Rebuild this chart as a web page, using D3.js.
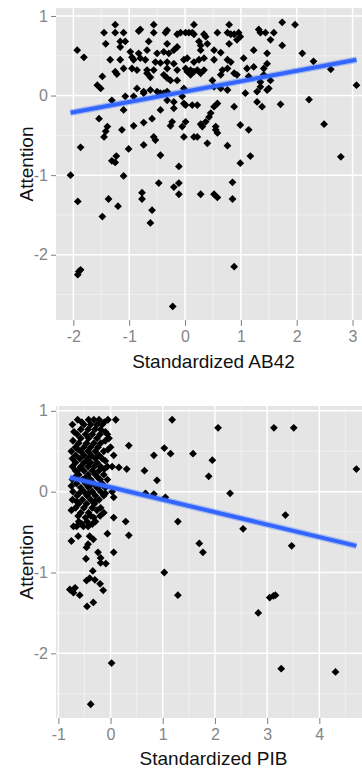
<!DOCTYPE html>
<html><head><meta charset="utf-8">
<script src="https://cdn.jsdelivr.net/npm/d3@7"></script>
<style>html,body{margin:0;padding:0;background:#fff}svg{display:block}</style>
</head><body>
<svg id="c" width="362" height="773"></svg>
<script>
// ---------- DATA ----------
const ab42Points = [
[-1.25,0.89],[-0.56,0.89],[0.16,0.89],[0.79,0.89],[1.74,0.92],[1.97,0.89],
[-1.45,0.79],[-1.25,0.79],[-1.10,0.79],[-0.83,0.81],[-0.80,0.83],[-0.56,0.79],[-0.35,0.79],[-0.32,0.82],[-0.14,0.77],[-0.08,0.79],[0.01,0.79],[0.07,0.79],[0.13,0.79],[0.16,0.77],[0.34,0.77],[0.37,0.74],[0.58,0.79],[0.76,0.79],[0.82,0.77],[0.88,0.77],[0.96,0.79],[1.32,0.83],[1.35,0.79],[1.44,0.79],[1.59,0.79],
[-1.42,0.65],[-1.16,0.68],[-1.07,0.68],[-0.65,0.68],[-0.32,0.65],[-0.14,0.61],[0.25,0.68],[0.28,0.63],[0.40,0.65],[0.79,0.65],[0.99,0.74],[0.93,0.70],[1.53,0.70],
[-1.93,0.57],[-1.81,0.48],[-1.16,0.61],[-0.98,0.55],[-0.83,0.53],[-0.68,0.57],[-0.50,0.53],[-0.38,0.55],[-0.29,0.53],[-0.20,0.57],[0.28,0.57],[0.52,0.57],[0.64,0.54],[1.23,0.57],[1.47,0.53],[1.74,0.63],[2.10,0.53],
[-1.34,0.45],[-1.16,0.45],[-0.95,0.48],[-0.92,0.45],[-0.80,0.47],[-0.71,0.45],[-0.53,0.42],[-0.44,0.41],[-0.32,0.42],[-0.20,0.40],[-0.02,0.45],[0.04,0.47],[0.16,0.42],[0.25,0.45],[0.34,0.47],[0.52,0.45],[0.76,0.45],[0.82,0.42],[1.05,0.47],[1.47,0.40],[2.30,0.43],
[-1.10,0.34],[-0.95,0.34],[-0.86,0.32],[-0.68,0.32],[-0.56,0.32],[-0.32,0.34],[-0.14,0.32],[0.01,0.34],[0.10,0.32],[0.22,0.32],[0.34,0.32],[0.67,0.32],[0.76,0.34],[1.11,0.34],[1.23,0.36],[1.41,0.34],[2.61,0.33],
[-1.57,0.13],[-1.51,0.09],[-1.48,0.24],[-1.25,0.30],[-1.22,0.27],[-0.68,0.28],[-0.62,0.23],[-0.38,0.26],[-0.32,0.22],[-0.26,0.19],[-0.14,0.19],[0.04,0.30],[0.10,0.26],[0.16,0.30],[0.28,0.28],[0.49,0.19],[0.64,0.26],[0.88,0.28],[0.93,0.26],[1.14,0.24],[1.41,0.26],[1.53,0.19],[1.35,0.17],
[-0.86,0.09],[-0.74,0.05],[-0.62,0.07],[-0.50,0.05],[-0.38,0.03],[-0.32,0.05],[-0.02,0.09],[0.52,0.11],[0.64,0.09],[0.76,0.07],[1.35,0.11],[1.50,0.09],[1.47,0.07],[3.07,0.13],
[-1.31,-0.06],[-1.07,-0.01],[-0.92,-0.01],[-0.74,0.03],[-0.44,0.03],[-0.32,-0.06],[-0.20,-0.08],[-0.05,-0.01],[-0.02,-0.10],[0.01,-0.12],[0.13,-0.12],[0.22,-0.12],[0.58,-0.10],[0.88,-0.14],[1.08,0.03],[1.29,0.05],[1.29,-0.08],[1.38,-0.14],[1.71,-0.11],[2.22,-0.05],
[-1.10,-0.18],[-0.44,-0.18],[-0.20,-0.16],[0.52,-0.14],[0.46,-0.22],[0.43,-0.27],
[-1.54,-0.29],[-1.39,-0.39],[-1.42,-0.45],[-1.45,-0.52],[-1.13,-0.43],[-0.92,-0.38],[-0.74,-0.34],[-0.59,-0.29],[-0.23,-0.33],[-0.26,-0.38],[-0.05,-0.39],[0.01,-0.33],[0.31,-0.39],[0.28,-0.36],[0.37,-0.33],[0.55,-0.39],[0.58,-0.47],[0.55,-0.43],[0.99,-0.37],[1.14,-0.43],[2.49,-0.36],
[-0.56,-0.52],[-0.53,-0.56],[-0.02,-0.52],[0.16,-0.52],[0.22,-0.52],[0.40,-0.60],[0.76,-0.63],
[-1.87,-0.65],[-1.01,-0.67],[-0.74,-0.62],[-0.44,-0.75],[1.17,-0.76],[0.99,-0.85],[2.79,-0.77],[-1.31,-0.82],[-1.25,-0.84],[-1.23,-0.76],[-1.10,-1.01],[-0.11,-0.89],[-2.05,-1.00],
[-1.92,-1.33],[-1.48,-1.52],[-1.37,-1.30],[-1.20,-1.39],[-0.77,-1.22],[-0.77,-1.30],[-0.59,-1.44],[-0.62,-1.60],[-0.47,-1.10],[-0.20,-1.15],[-0.11,-1.10],[-0.11,-1.24],[0.28,-1.24],[0.52,-1.24],[0.58,-1.28],[0.85,-1.09],[0.85,-1.30],[0.88,-2.15],[-1.87,-2.19],[-1.90,-2.21],[-1.92,-2.25],[-0.22,-2.65]
];

const pibPoints = [
[-0.63,0.89],[-0.42,0.89],[-0.32,0.89],[-0.22,0.89],[-0.05,0.89],[0.10,0.89],
[-0.73,0.83],[-0.51,0.83],[-0.38,0.83],[-0.26,0.83],[-0.16,0.83],
[-0.55,0.86],[-0.12,0.86],
[-0.57,0.77],[-0.43,0.77],[-0.30,0.77],[-0.19,0.77],
[-0.70,0.74],[-0.10,0.74],
[-0.64,0.71],[-0.48,0.71],[-0.35,0.71],[-0.20,0.71],[-0.06,0.71],
[-0.57,0.66],[-0.42,0.66],[-0.26,0.66],[-0.03,0.66],
[-0.72,0.63],[-0.10,0.63],
[-0.61,0.60],[-0.46,0.60],[-0.32,0.60],[-0.19,0.60],
[-0.67,0.55],[-0.51,0.55],[-0.38,0.55],[-0.24,0.55],[0.00,0.55],
[-0.62,0.52],[-0.05,0.52],
[-0.75,0.50],[-0.57,0.50],[-0.43,0.50],[-0.29,0.50],[-0.13,0.50],
[-0.67,0.45],[-0.51,0.45],[-0.37,0.45],[-0.22,0.45],[0.06,0.45],
[-0.73,0.41],[-0.59,0.41],[-0.43,0.41],[-0.29,0.41],[-0.16,0.41],
[-0.45,0.38],[-0.10,0.38],
[-0.67,0.36],[-0.51,0.36],[-0.38,0.36],[-0.26,0.36],
[-0.73,0.31],[-0.57,0.31],[-0.43,0.31],[-0.31,0.31],[-0.19,0.31],[-0.06,0.31],[0.03,0.31],
[-0.60,0.28],[-0.12,0.28],
[-0.67,0.26],[-0.51,0.26],[-0.35,0.26],[-0.22,0.26],
[-0.61,0.21],[-0.43,0.21],[-0.29,0.21],[-0.13,0.21],
[-0.68,0.18],[-0.47,0.18],[-0.25,0.18],
[-0.73,0.15],[-0.54,0.15],[-0.38,0.15],[-0.20,0.15],[-0.06,0.15],
[-0.65,0.10],[-0.48,0.10],[-0.32,0.10],[-0.16,0.10],
[-0.75,0.07],[-0.40,0.07],[-0.22,0.07],
[-0.57,0.05],[-0.42,0.05],[-0.26,0.05],[-0.10,0.05],
[-0.72,0.00],[-0.51,0.00],[-0.35,0.00],[-0.19,0.00],[0.03,0.00],
[-0.60,-0.02],[-0.42,-0.02],[-0.10,-0.02],
[-0.64,-0.05],[-0.45,-0.05],[-0.29,-0.05],[-0.13,-0.05],
[-0.73,-0.10],[-0.54,-0.10],[-0.38,-0.10],[-0.22,-0.10],
[-0.65,-0.12],[-0.30,-0.12],
[-0.61,-0.15],[-0.46,-0.15],[-0.31,-0.15],
[-0.67,-0.20],[-0.51,-0.20],[-0.35,-0.20],[-0.19,-0.20],
[-0.75,-0.23],[-0.26,-0.23],
[-0.57,-0.26],[-0.42,-0.26],[-0.13,-0.26],
[-0.62,-0.30],[-0.38,-0.30],[-0.20,-0.30],
[-0.48,-0.32],[-0.32,-0.32],
[-0.61,-0.37],[-0.45,-0.37],[-0.29,-0.37],
[-0.55,-0.40],[-0.35,-0.40],
[-0.75,-0.61],[-0.62,-0.55],[-0.71,-0.43],[-0.65,-0.43],[-0.52,-0.43],[-0.43,-0.43],[-0.40,-0.55],[-0.33,-0.59],[-0.43,-0.65],[-0.46,-0.69],[-0.06,-0.52],[-0.47,-0.83],[-0.24,-0.75],[-0.19,-0.82],[-0.19,-0.88],[-0.09,-0.89],[0.06,-0.75],[-0.34,-0.98],[-0.46,-1.10],[-0.40,-1.07],[-0.30,-1.09],[-0.20,-1.14],[-0.14,-1.22],[-0.78,-1.21],[-0.68,-1.19],[-0.71,-1.25],[-0.59,-1.28],[-0.45,-1.42],[-0.33,-1.37],
[1.18,0.89],[2.06,0.79],[3.13,0.79],[3.51,0.79],[0.35,0.57],[1.03,0.54],[0.83,0.45],[1.15,0.47],[1.58,0.47],[1.95,0.39],[0.65,0.26],[0.89,0.14],[1.88,0.19],[4.71,0.28],[2.29,-0.02],[0.67,-0.02],[0.83,-0.03],[1.05,-0.07],[1.29,-0.37],[2.54,-0.46],[3.35,-0.29],[3.47,-0.67],[1.70,-0.64],[1.77,-0.75],[1.03,-1.00],[1.29,-1.28],[3.05,-1.31],[3.12,-1.29],[3.16,-1.28],[2.83,-1.50],[3.27,-2.19],[4.31,-2.23],[0.02,-2.12],[-0.38,-2.63],[0.31,0.28],[0.16,0.30],[0.06,-0.07],[0.06,-0.32],[0.29,-0.37],[0.35,-0.54]
];

// fitted lines (intercept, slope)
const ab42Fit = [0.05, 0.13];
const pibFit = [0.055, -0.154];

const ab42XTicks = [-2, -1, 0, 1, 2, 3];
const ab42XMinor = [-1.5, -0.5, 0.5, 1.5, 2.5];
const pibXTicks = [-1, 0, 1, 2, 3, 4];
const pibXMinor = [-0.5, 0.5, 1.5, 2.5, 3.5, 4.5];
const attentionTicks = [-2, -1, 0, 1];
const attentionMinor = [-2.5, -1.5, -0.5, 0.5];

// ---------- DRAWING ----------
const svg = d3.select("#c");
const FONT = "'Liberation Sans', Arial, sans-serif";

function panel(cfg) {
  const {points, fit, xTicks, xMinor, xDomain, yDomain, top, bottom, xTitle, xTitleY} = cfg;
  const left = 56, right = 371;
  const x = d3.scaleLinear().domain(xDomain).range([left, right]);
  const y = d3.scaleLinear().domain(yDomain).range([bottom, top]);
  const g = svg.append("g");

  g.append("rect").attr("x", left).attr("y", top)
    .attr("width", right - left).attr("height", bottom - top).attr("fill", "#E5E5E5");

  // minor grid
  g.selectAll(null).data(xMinor).join("line")
    .attr("x1", d => x(d)).attr("x2", d => x(d)).attr("y1", top).attr("y2", bottom)
    .attr("stroke", "#F2F2F2").attr("stroke-width", 0.8);
  g.selectAll(null).data(attentionMinor).join("line")
    .attr("y1", d => y(d)).attr("y2", d => y(d)).attr("x1", left).attr("x2", right)
    .attr("stroke", "#F2F2F2").attr("stroke-width", 0.8);
  // major grid
  g.selectAll(null).data(xTicks).join("line")
    .attr("x1", d => x(d)).attr("x2", d => x(d)).attr("y1", top).attr("y2", bottom)
    .attr("stroke", "#FFFFFF").attr("stroke-width", 1.5);
  g.selectAll(null).data(attentionTicks).join("line")
    .attr("y1", d => y(d)).attr("y2", d => y(d)).attr("x1", left).attr("x2", right)
    .attr("stroke", "#FFFFFF").attr("stroke-width", 1.5);

  // points (ggplot shape 18: filled diamond)
  const r = 3.9;
  const diamond = `M0,${-r}L${r},0L0,${r}L${-r},0Z`;
  g.selectAll(null).data(points).join("path")
    .attr("d", diamond)
    .attr("transform", d => `translate(${x(d[0])},${y(d[1])})`)
    .attr("fill", "#000");

  // regression line over the data range
  const ext = d3.extent(points, d => d[0]);
  const line = d3.line().x(d => x(d)).y(d => y(fit[0] + fit[1] * d));
  g.append("path").attr("d", line(ext)).attr("fill", "none")
    .attr("stroke", "#3366FF").attr("stroke-opacity", 0.35).attr("stroke-width", 6.5);
  g.append("path").attr("d", line(ext)).attr("fill", "none")
    .attr("stroke", "#3366FF").attr("stroke-width", 4);

  // axes
  const xAxis = d3.axisBottom(x).tickValues(xTicks).tickSize(6).tickPadding(5);
  const ax = g.append("g").attr("transform", `translate(0,${bottom})`).call(xAxis);
  const yAxis = d3.axisLeft(y).tickValues(attentionTicks).tickSize(5).tickPadding(3);
  const ay = g.append("g").attr("transform", `translate(${left},0)`).call(yAxis);
  [ax, ay].forEach(a => {
    a.select(".domain").remove();
    a.selectAll(".tick line").attr("stroke", "#7F7F7F").attr("stroke-width", 1);
    a.selectAll(".tick text").attr("fill", "#858585").attr("font-size", 16).attr("font-family", FONT)
      .text(d => d < 0 ? "-" + Math.abs(d) : d);
  });

  // titles
  g.append("text").attr("x", (left + right) / 2).attr("y", xTitleY)
    .attr("text-anchor", "middle").attr("font-family", FONT).attr("font-size", 19)
    .attr("fill", "#111").text(xTitle);
  g.append("text").attr("transform", `translate(33,${(top + bottom) / 2}) rotate(-90)`)
    .attr("text-anchor", "middle").attr("font-family", FONT).attr("font-size", 19)
    .attr("fill", "#111").text("Attention");
}

panel({points: ab42Points, fit: ab42Fit, xTicks: ab42XTicks, xMinor: ab42XMinor,
  xDomain: [-2.31, 3.33], yDomain: [-2.82, 1.10], top: 8, bottom: 320,
  xTitle: "Standardized AB42", xTitleY: 368});
panel({points: pibPoints, fit: pibFit, xTicks: pibXTicks, xMinor: pibXMinor,
  xDomain: [-1.045, 4.99], yDomain: [-2.80, 1.06], top: 406, bottom: 718,
  xTitle: "Standardized PIB", xTitleY: 765});
</script>
</body></html>
